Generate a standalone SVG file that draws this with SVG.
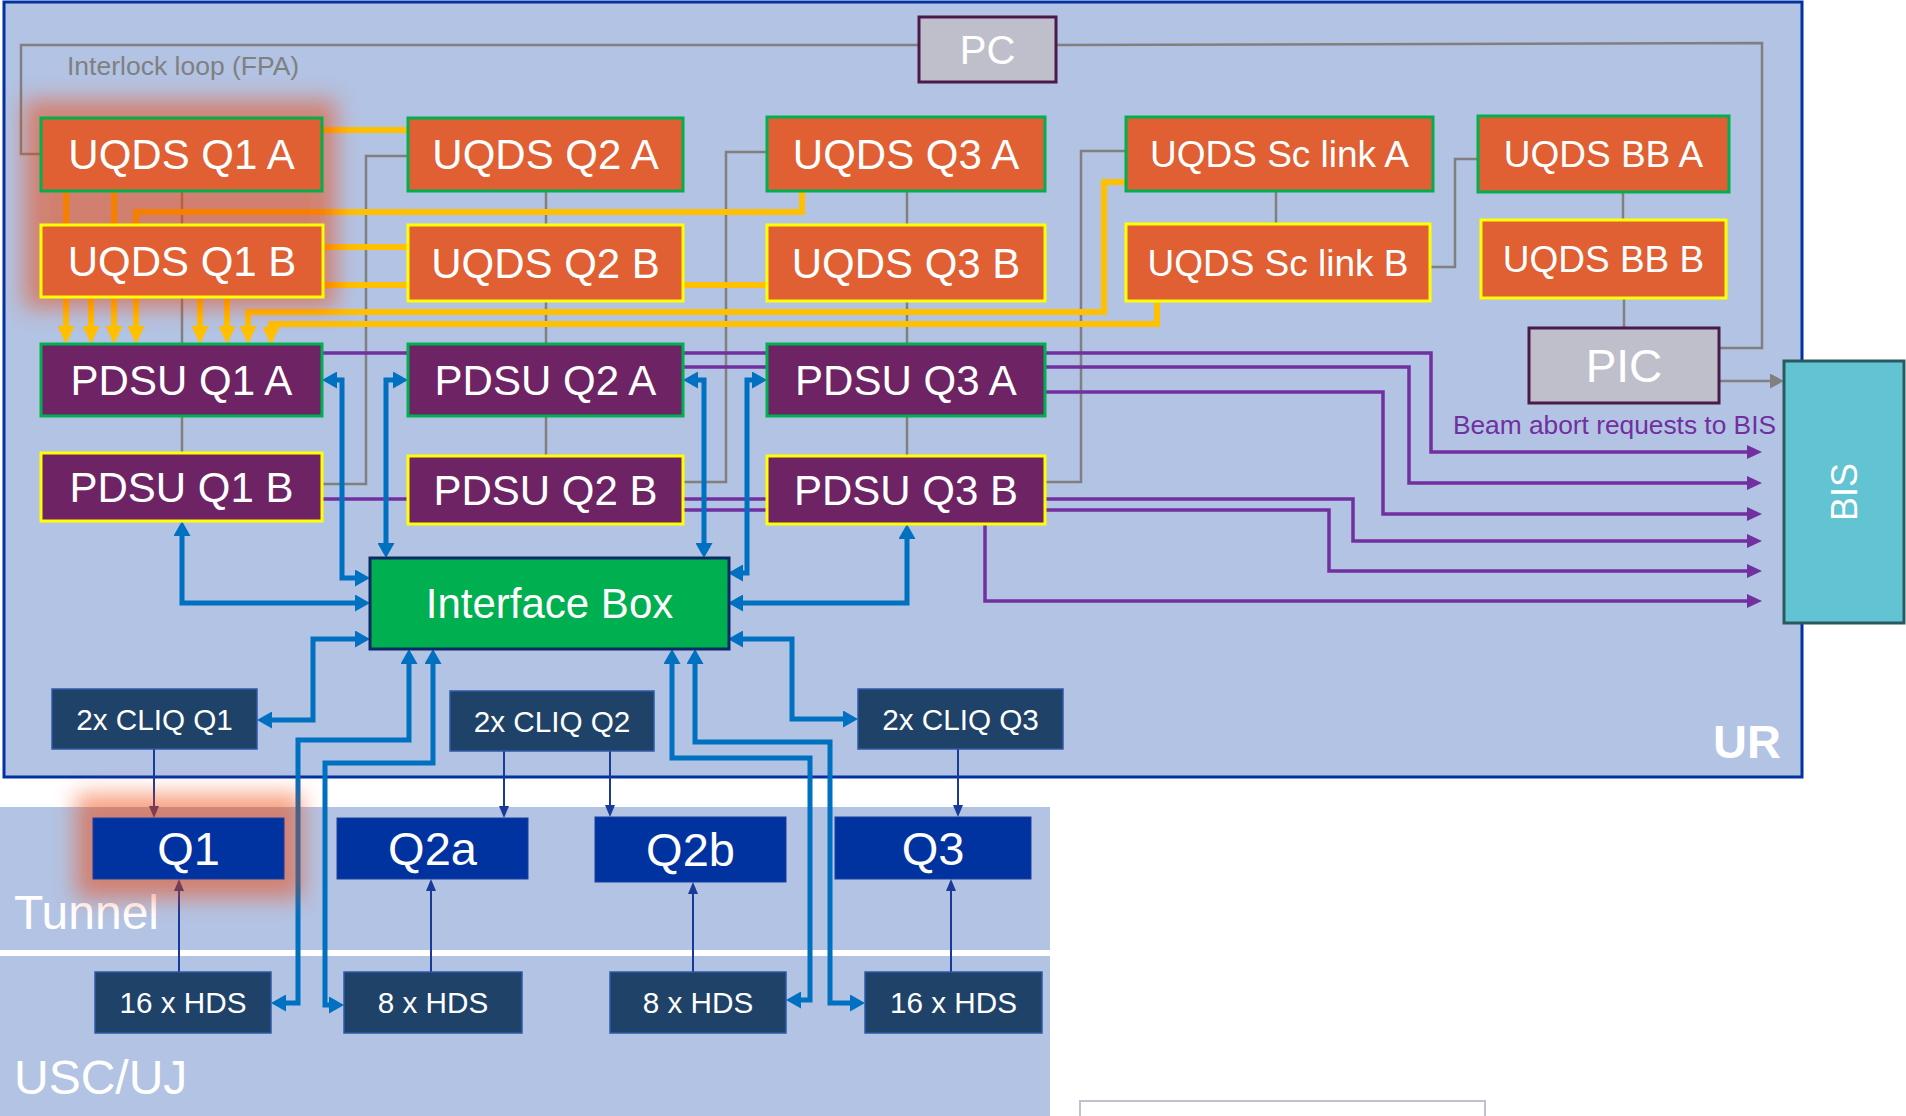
<svg xmlns="http://www.w3.org/2000/svg" width="1906" height="1116" viewBox="0 0 1906 1116">
<defs>
<style>
text{font-family:"Liberation Sans",Arial,sans-serif;fill:#fff;text-anchor:middle}
.uq{fill:#e05f33}
.pd{fill:#6e2365}
.ga{stroke:#00b050;stroke-width:3}
.gb{stroke:#ffff00;stroke-width:3}
.gy{fill:#bfbfcb;stroke:#4b1a4b;stroke-width:3}
.dk{fill:#1f4269;stroke:#2e5aa8;stroke-width:1.5}
.mg{fill:#0033a0;stroke:#1a3f9f;stroke-width:1}
.cg{fill:none;stroke:#808080;stroke-width:2.5}
.cy{fill:none;stroke:#ffc000;stroke-width:6}
.cb{fill:none;stroke:#0070c0;stroke-width:5;marker-start:url(#ab);marker-end:url(#ab)}
.ct{fill:none;stroke:#1a3a9a;stroke-width:2;marker-end:url(#at)}
.cp{fill:none;stroke:#7030a0;stroke-width:3.5;marker-end:url(#ap)}
.f42{font-size:42px}.f37{font-size:37px}.f29{font-size:29.7px}.f44{font-size:47px}
</style>
<marker id="ay" markerUnits="userSpaceOnUse" markerWidth="18" markerHeight="17" refX="0" refY="8.5" orient="auto" viewBox="0 0 18 17"><path d="M0,0 L18,8.5 L0,17 z" fill="#ffc000"/></marker>
<marker id="ab" markerUnits="userSpaceOnUse" markerWidth="15" markerHeight="17" refX="0" refY="8.5" orient="auto-start-reverse" viewBox="0 0 15 17"><path d="M0,0 L15,8.5 L0,17 z" fill="#0070c0"/></marker>
<marker id="at" markerUnits="userSpaceOnUse" markerWidth="12" markerHeight="10" refX="0" refY="5" orient="auto" viewBox="0 0 12 10"><path d="M0,0 L12,5 L0,10 z" fill="#1a3a9a"/></marker>
<marker id="ap" markerUnits="userSpaceOnUse" markerWidth="15" markerHeight="14" refX="0" refY="7" orient="auto" viewBox="0 0 15 14"><path d="M0,0 L15,7 L0,14 z" fill="#7030a0"/></marker>
<marker id="ag" markerUnits="userSpaceOnUse" markerWidth="14" markerHeight="15" refX="0" refY="7.5" orient="auto" viewBox="0 0 14 15"><path d="M0,0 L14,7.5 L0,15 z" fill="#808080"/></marker>
<filter id="blur" x="-30%" y="-30%" width="160%" height="160%"><feGaussianBlur stdDeviation="11"/></filter>
</defs>

<rect x="0" y="0" width="1906" height="1116" fill="#ffffff"/>
<g id="regions">
<rect x="4" y="2" width="1798" height="775" fill="#b3c3e3" stroke="#0033a0" stroke-width="3"/>
<rect x="0" y="807" width="1050" height="143" fill="#b3c3e3"/>
<rect x="0" y="956" width="1050" height="160" fill="#b3c3e3"/>
<text x="1713" y="758" style="font-size:47px;font-weight:bold;text-anchor:start">UR</text>
<text x="14" y="929" style="font-size:48px;text-anchor:start">Tunnel</text>
<text x="14" y="1094" style="font-size:48px;text-anchor:start">USC/UJ</text>
<rect x="1080" y="1101" width="405" height="30" fill="#ffffff" stroke="#c0c0d0" stroke-width="2"/>
</g>

<g id="connectors">
<g id="interlock">
<path class="cg" d="M919 45 H21 V154 H41"/>
<path class="cg" d="M182 191 V453"/>
<path class="cg" d="M322 484 H366 V156 H408"/>
<path class="cg" d="M546 191 V456"/>
<path class="cg" d="M683 482 H726 V152 H767"/>
<path class="cg" d="M907 191 V456"/>
<path class="cg" d="M1045 482 H1081 V151 H1126"/>
<path class="cg" d="M1276 191 V224"/>
<path class="cg" d="M1430 267 H1455 V159 H1478"/>
<path class="cg" d="M1623 192 V220"/>
<path class="cg" d="M1624 298 V328"/>
<path class="cg" d="M1056 45 L1762 43 V348 H1719"/>
<path class="cg" d="M1719 381 H1770" marker-end="url(#ag)"/>
<text x="67" y="75" style="font-size:26.5px;fill:#808080;text-anchor:start">Interlock loop (FPA)</text>
</g>
<g id="uqds-links">
<path class="cy" d="M322 130 H408"/>
<path class="cy" d="M66 191 V326" marker-end="url(#ay)"/>
<path class="cy" d="M114 191 V326" marker-end="url(#ay)"/>
<path class="cy" d="M802 191 V212 H136 V326" marker-end="url(#ay)"/>
<path class="cy" d="M91 297 V326" marker-end="url(#ay)"/>
<path class="cy" d="M323 247 H408"/>
<path class="cy" d="M323 285 H767"/>
<path class="cy" d="M200 297 V326" marker-end="url(#ay)"/>
<path class="cy" d="M227 297 V326" marker-end="url(#ay)"/>
<path class="cy" d="M1131 182 H1104 V312 H248 V326" marker-end="url(#ay)"/>
<path class="cy" d="M1157 301 V324 H271 V327" marker-end="url(#ay)"/>
</g>
<g id="beam-abort">
<path class="cp" d="M322 353 H1431 V452 H1747"/>
<path class="cp" d="M683 367 H1409 V483 H1747"/>
<path class="cp" d="M1045 392 H1383 V514 H1747"/>
<path class="cp" d="M322 499 H1353 V541 H1747"/>
<path class="cp" d="M683 510 H1329 V571 H1747"/>
<path class="cp" d="M985 524 V601 H1747"/>
<text x="1776" y="434" style="font-size:26.3px;fill:#7030a0;text-anchor:end">Beam abort requests to BIS</text>
</g>
<g id="interface-links">
<path class="cb" d="M337 380 H342 V578 H355"/>
<path class="cb" d="M393 380 H386 V543"/>
<path class="cb" d="M698 380 H704 V543"/>
<path class="cb" d="M752 380 H747 V573 H743"/>
<path class="cb" d="M182 536 V603 H355"/>
<path class="cb" d="M907 539 V603 H743"/>
<path class="cb" d="M355 639 H313 V720 H272"/>
<path class="cb" d="M743 639 H792 V719 H843"/>
<path class="cb" d="M409 664 V740 H298 V1003 H286"/>
<path class="cb" d="M433 664 V763 H325 V1005 H329"/>
<path class="cb" d="M672 664 V758 H810 V1000 H801"/>
<path class="cb" d="M695 664 V742 H830 V1003 H850"/>
</g>
<g id="magnet-links">
<path class="ct" d="M154 749 V806"/>
<path class="ct" d="M504 751 V806"/>
<path class="ct" d="M610 751 V805"/>
<path class="ct" d="M958 749 V805"/>
<path class="ct" d="M179 972 V891"/>
<path class="ct" d="M431 972 V891"/>
<path class="ct" d="M693 972 V894"/>
<path class="ct" d="M951 972 V891"/>
</g>
</g>

<g id="highlights" filter="url(#blur)" opacity="0.5">
<rect x="24" y="100" width="312" height="208" fill="#f04000"/>
<rect x="76" y="794" width="226" height="104" fill="#f04000"/>
</g>

<g id="uqds-q1-a"><rect class="uq ga" x="41" y="118" width="281" height="73"/><text class="f42" x="181.5" y="169">UQDS Q1 A</text></g>
<g id="uqds-q1-b"><rect class="uq gb" x="41" y="225" width="282" height="72"/><text class="f42" x="182" y="276">UQDS Q1 B</text></g>
<g id="uqds-q2-a"><rect class="uq ga" x="408" y="118" width="275" height="73"/><text class="f42" x="545.5" y="169">UQDS Q2 A</text></g>
<g id="uqds-q2-b"><rect class="uq gb" x="408" y="225" width="275" height="76"/><text class="f42" x="545.5" y="278">UQDS Q2 B</text></g>
<g id="uqds-q3-a"><rect class="uq ga" x="767" y="117" width="278" height="74"/><text class="f42" x="906" y="169">UQDS Q3 A</text></g>
<g id="uqds-q3-b"><rect class="uq gb" x="767" y="225" width="278" height="76"/><text class="f42" x="906" y="278">UQDS Q3 B</text></g>
<g id="uqds-sc-a"><rect class="uq ga" x="1126" y="117" width="307" height="74"/><text class="f37" x="1279.5" y="167">UQDS Sc link A</text></g>
<g id="uqds-sc-b"><rect class="uq gb" x="1126" y="224" width="304" height="77"/><text class="f37" x="1278" y="275.5">UQDS Sc link B</text></g>
<g id="uqds-bb-a"><rect class="uq ga" x="1478" y="116" width="251" height="76"/><text class="f37" x="1603.5" y="167">UQDS BB A</text></g>
<g id="uqds-bb-b"><rect class="uq gb" x="1481" y="220" width="245" height="78"/><text class="f37" x="1603.5" y="272">UQDS BB B</text></g>

<g id="pdsu-q1-a"><rect class="pd ga" x="41" y="344" width="281" height="72"/><text class="f42" x="181.5" y="395">PDSU Q1 A</text></g>
<g id="pdsu-q1-b"><rect class="pd gb" x="41" y="453" width="281" height="68"/><text class="f42" x="181.5" y="502">PDSU Q1 B</text></g>
<g id="pdsu-q2-a"><rect class="pd ga" x="408" y="344" width="275" height="72"/><text class="f42" x="545.5" y="395">PDSU Q2 A</text></g>
<g id="pdsu-q2-b"><rect class="pd gb" x="408" y="456" width="275" height="68"/><text class="f42" x="545.5" y="505">PDSU Q2 B</text></g>
<g id="pdsu-q3-a"><rect class="pd ga" x="767" y="344" width="278" height="72"/><text class="f42" x="906" y="395">PDSU Q3 A</text></g>
<g id="pdsu-q3-b"><rect class="pd gb" x="767" y="456" width="278" height="68"/><text class="f42" x="906" y="505">PDSU Q3 B</text></g>

<g id="pc"><rect class="gy" x="919" y="17" width="137" height="65"/><text x="987.5" y="63.5" style="font-size:40px">PC</text></g>
<g id="pic"><rect class="gy" x="1529" y="328" width="190" height="75"/><text x="1624" y="382" style="font-size:46px">PIC</text></g>
<g id="bis"><rect x="1784" y="361" width="120" height="262" fill="#62c3d3" stroke="#2a5a60" stroke-width="3"/><text x="0" y="0" transform="translate(1857 492) rotate(-90)" style="font-size:36px">BIS</text></g>

<g id="interface-box"><rect x="370" y="558" width="359" height="91" fill="#00b050" stroke="#0d2a66" stroke-width="3"/><text x="549.5" y="618" style="font-size:42px">Interface Box</text></g>

<g id="cliq-q1"><rect class="dk" x="52" y="689" width="205" height="60"/><text class="f29" x="154.5" y="729.5">2x CLIQ Q1</text></g>
<g id="cliq-q2"><rect class="dk" x="450" y="691" width="204" height="60"/><text class="f29" x="552" y="731.5">2x CLIQ Q2</text></g>
<g id="cliq-q3"><rect class="dk" x="858" y="689" width="205" height="60"/><text class="f29" x="960.5" y="729.5">2x CLIQ Q3</text></g>

<g id="mag-q1"><rect class="mg" x="93" y="818" width="191" height="61"/><text class="f44" x="188.5" y="865">Q1</text></g>
<g id="mag-q2a"><rect class="mg" x="337" y="818" width="191" height="61"/><text class="f44" x="432.5" y="865">Q2a</text></g>
<g id="mag-q2b"><rect class="mg" x="595" y="817" width="191" height="65"/><text class="f44" x="690.5" y="866">Q2b</text></g>
<g id="mag-q3"><rect class="mg" x="835" y="817" width="196" height="62"/><text class="f44" x="933" y="864.5">Q3</text></g>

<g id="hds-1"><rect class="dk" x="95" y="972" width="176" height="61"/><text class="f29" x="183" y="1013">16 x HDS</text></g>
<g id="hds-2"><rect class="dk" x="344" y="972" width="178" height="61"/><text class="f29" x="433" y="1013">8 x HDS</text></g>
<g id="hds-3"><rect class="dk" x="610" y="972" width="176" height="61"/><text class="f29" x="698" y="1013">8 x HDS</text></g>
<g id="hds-4"><rect class="dk" x="865" y="972" width="177" height="61"/><text class="f29" x="953.5" y="1013">16 x HDS</text></g>
</svg>
